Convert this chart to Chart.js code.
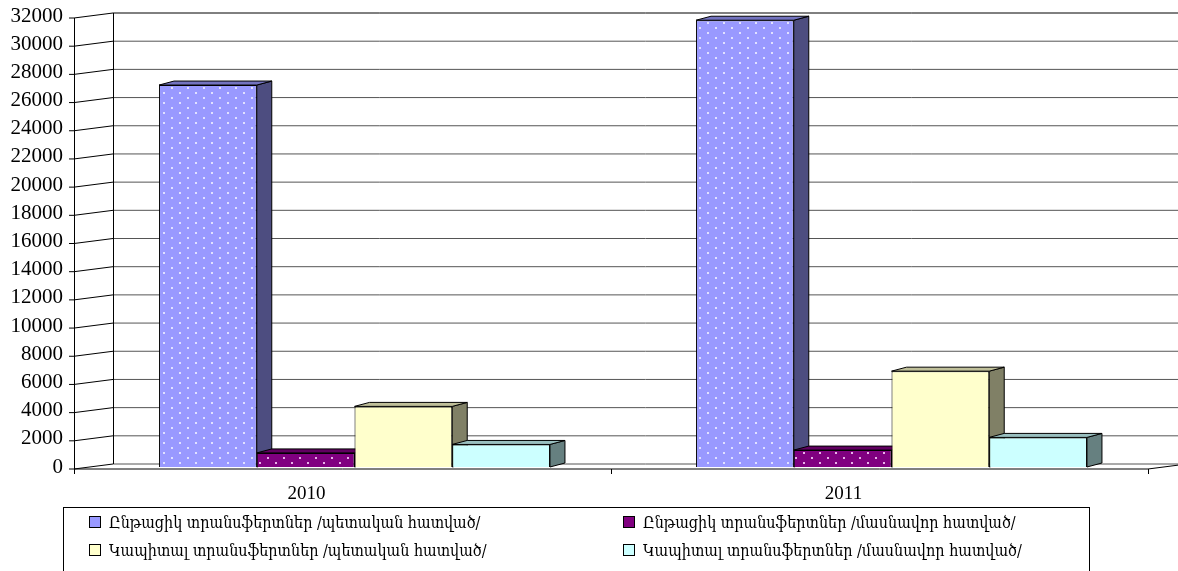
<!DOCTYPE html>
<html>
<head>
<meta charset="utf-8">
<script src="https://cdn.jsdelivr.net/npm/chart.js@4/dist/chart.umd.min.js"></script>
<style>
  body { margin: 0; background: #fff; }
  #wrap { position: relative; width: 1178px; height: 571px; overflow: hidden; }
  #legend {
    position: absolute; left: 63px; top: 507px; width: 1025px; height: 90px;
    border: 1px solid #000; font-family: 'DejaVu Serif Condensed', 'Liberation Serif', 'DejaVu Serif', serif; font-size: 16px;
  }
  .item { position: absolute; display: flex; align-items: center; white-space: nowrap; }
  .box { width: 10px; height: 10px; border: 1px solid #000; margin-right: 8px; }
</style>
</head>
<body>
<div id="wrap">
  <canvas id="chart" width="1178" height="571"></canvas>
  <div id="legend"></div>
</div>
<script>
const years = ['2010', '2011'];
const seriesNames = [
  'Ընթացիկ տրանսֆերտներ /պետական հատված/',
  'Ընթացիկ տրանսֆերտներ /մասնավոր հատված/',
  'Կապիտալ տրանսֆերտներ /պետական հատված/',
  'Կապիտալ տրանսֆերտներ /մասնավոր հատված/'
];
const currentGov = [27100, 31700];
const currentPrivate = [1000, 1200];
const capitalGov = [4300, 6800];
const capitalPrivate = [1600, 2100];

const frontColors = ['#9999FF', '#800080', '#FFFFCC', '#CCFFFF'];
const sideColors = ['#4D4D80', '#400040', '#808066', '#668080'];
const topColors = ['#7373BF', '#600060', '#BFBF99', '#99BFBF'];

const serif = "'Liberation Serif', 'DejaVu Serif', serif";

// 3d offsets relative to the bar plane
const FRONT = { dx: -12, dy: 2 };
const BACK = { dx: 27, dy: -3 };
const DEPTH = { dx: 15, dy: -4 };

function dotted(base, dot) {
  const c = document.createElement('canvas');
  c.width = 16; c.height = 10;
  const g = c.getContext('2d');
  g.fillStyle = base;
  g.fillRect(0, 0, 16, 10);
  g.fillStyle = dot;
  g.fillRect(3, 2, 2, 2);
  g.fillRect(11, 7, 2, 2);
  return g.createPattern(c, 'repeat');
}

const fills = [
  dotted(frontColors[0], '#E0E0FF'),
  dotted(frontColors[1], '#E8B0E8'),
  frontColors[2],
  frontColors[3]
];

const frame3d = {
  id: 'frame3d',
  beforeDatasetsDraw(chart) {
    const ctx = chart.ctx;
    const y = chart.scales.y;
    const x = chart.scales.x;
    const area = chart.chartArea;
    const fx = area.left + FRONT.dx;
    const bx = area.left + BACK.dx;
    ctx.save();
    ctx.lineWidth = 1;

    for (const t of y.ticks) {
      const py = y.getPixelForValue(t.value);
      ctx.strokeStyle = t.value === 32000 ? '#000' : '#555';
      ctx.beginPath();
      ctx.moveTo(bx, py + BACK.dy);
      ctx.lineTo(chart.width, py + BACK.dy);
      ctx.stroke();
      ctx.strokeStyle = '#000';
      ctx.beginPath();
      ctx.moveTo(fx, py + FRONT.dy);
      ctx.lineTo(bx, py + BACK.dy);
      ctx.stroke();
      ctx.beginPath();
      ctx.moveTo(fx - 5, py + FRONT.dy);
      ctx.lineTo(fx, py + FRONT.dy);
      ctx.stroke();
    }

    const top = y.getPixelForValue(32000);
    const zero = y.getPixelForValue(0);
    ctx.strokeStyle = '#000';
    ctx.beginPath();
    ctx.moveTo(bx + 0.5, top + BACK.dy);
    ctx.lineTo(bx + 0.5, zero + BACK.dy);
    ctx.moveTo(fx + 0.5, top + FRONT.dy);
    ctx.lineTo(fx + 0.5, zero + FRONT.dy);
    ctx.stroke();

    // floor
    ctx.beginPath();
    ctx.moveTo(fx, zero + FRONT.dy);
    ctx.lineTo(area.right + FRONT.dx, zero + FRONT.dy);
    ctx.lineTo(area.right + BACK.dx, zero + BACK.dy);
    ctx.stroke();
    const half = (x.getPixelForValue(1) - x.getPixelForValue(0)) / 2;
    const bounds = [x.getPixelForValue(0) - half, x.getPixelForValue(0) + half, x.getPixelForValue(1) + half];
    ctx.beginPath();
    for (const b of bounds) {
      ctx.moveTo(b + FRONT.dx + 0.5, zero + FRONT.dy);
      ctx.lineTo(b + FRONT.dx + 0.5, zero + FRONT.dy + 5);
    }
    ctx.stroke();

    // side and top faces of the bars, front faces come from the library
    for (let d = 0; d < chart.data.datasets.length; d++) {
      const meta = chart.getDatasetMeta(d);
      for (const bar of meta.data) {
        const left = bar.x - bar.width / 2;
        const right = bar.x + bar.width / 2;
        ctx.strokeStyle = '#000';
        ctx.fillStyle = sideColors[d];
        ctx.beginPath();
        ctx.moveTo(right, bar.y);
        ctx.lineTo(right + DEPTH.dx, bar.y + DEPTH.dy);
        ctx.lineTo(right + DEPTH.dx, bar.base + DEPTH.dy);
        ctx.lineTo(right, bar.base);
        ctx.closePath();
        ctx.fill();
        ctx.stroke();
        ctx.fillStyle = topColors[d];
        ctx.beginPath();
        ctx.moveTo(left, bar.y);
        ctx.lineTo(left + DEPTH.dx, bar.y + DEPTH.dy);
        ctx.lineTo(right + DEPTH.dx, bar.y + DEPTH.dy);
        ctx.lineTo(right, bar.y);
        ctx.closePath();
        ctx.fill();
        ctx.stroke();
      }
    }
    ctx.restore();
  }
};

const seriesValues = [currentGov, currentPrivate, capitalGov, capitalPrivate];

new Chart(document.getElementById('chart'), {
  type: 'bar',
  data: {
    labels: years,
    datasets: seriesNames.map((name, i) => ({
      label: name,
      data: seriesValues[i],
      backgroundColor: fills[i],
      borderColor: '#000',
      borderWidth: 1,
      categoryPercentage: 0.728,
      barPercentage: 1
    }))
  },
  options: {
    responsive: false,
    animation: false,
    layout: { padding: { top: 16, right: 18, left: 0, bottom: 0 } },
    plugins: {
      legend: { display: false },
      tooltip: { enabled: false }
    },
    scales: {
      x: {
        grid: { display: false },
        border: { display: false },
        ticks: {
          color: '#000',
          font: { family: serif, size: 19 },
          padding: 8,
          labelOffset: -48,
          maxRotation: 0
        },
        afterFit(scale) { scale.height = 104; }
      },
      y: {
        min: 0,
        max: 32000,
        grid: { display: false, drawTicks: false },
        border: { display: false },
        ticks: {
          stepSize: 2000,
          autoSkip: false,
          color: '#000',
          font: { family: serif, size: 21 },
          padding: 23,
          callback: (v) => String(v)
        },
        afterFit(scale) {
          scale.width = 86;
          scale.paddingTop = 0;
          scale.paddingBottom = 0;
        }
      }
    }
  },
  plugins: [frame3d]
});

// legend box, two columns
const legend = document.getElementById('legend');
const legendPos = [[25, 14], [559, 14], [25, 42], [559, 42]];
seriesNames.forEach((name, i) => {
  const item = document.createElement('div');
  item.className = 'item';
  item.style.left = legendPos[i][0] + 'px';
  item.style.top = (legendPos[i][1] - 10) + 'px';
  item.style.height = '20px';
  const box = document.createElement('span');
  box.className = 'box';
  box.style.background = frontColors[i];
  item.appendChild(box);
  const text = document.createElement('span');
  text.textContent = name;
  item.appendChild(text);
  legend.appendChild(item);
});
</script>
</body>
</html>
